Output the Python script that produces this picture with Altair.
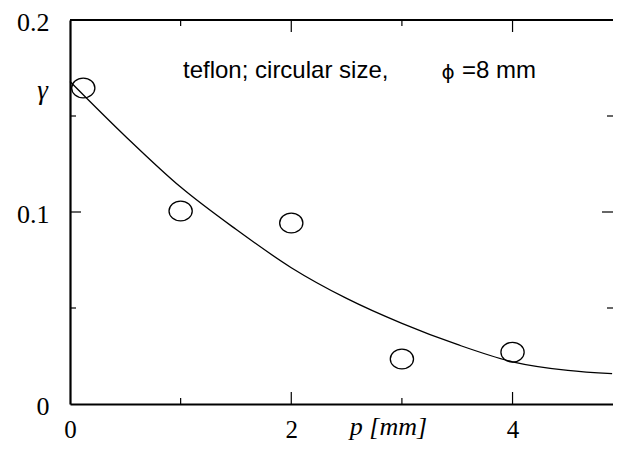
import altair as alt
import pandas as pd

# measured points
p_vals = [0.12, 1.0, 2.0, 3.0, 4.0]
gamma_vals = [0.1646, 0.1005, 0.0943, 0.0234, 0.027]

# fitted curve
curve_p = [0.0, 0.5, 1.0, 1.5, 2.0, 2.5, 3.0, 3.5, 4.0, 4.5, 4.9]
curve_g = [0.168, 0.1395, 0.113, 0.091, 0.071, 0.055, 0.042, 0.031, 0.022, 0.0175, 0.0158]

# ticks
x_labels = [0, 2, 4]
x_major = [2, 4]
x_minor = [1, 3]
y_labels = [0, 0.1, 0.2]
y_major = [0.1]
y_minor = [0.05, 0.15]

note_text = "teflon; circular size,"
phi_text = "\u03d5"
eq_text = "=8 mm"

W, H = 543, 384
XDOM = [0, 4.908]
YDOM = [0, 0.2]

pts = pd.DataFrame({"p": p_vals, "g": gamma_vals})
crv = pd.DataFrame({"p": curve_p, "g": curve_g})

xs = alt.Scale(domain=XDOM, nice=False, zero=False)
ys = alt.Scale(domain=YDOM, nice=False, zero=False)

x_axis = alt.Axis(
    values=x_labels, format="d", tickSize=0, labelPadding=33, labelFlush=False,
    labelFont="Liberation Serif", labelFontSize=25, labelColor="black",
    domainColor="black", domainWidth=2.2, grid=False, labelBaseline="alphabetic",
    title="p [mm]", titleFont="Liberation Serif", titleFontStyle="italic",
    titleFontWeight="normal", titleFontSize=26, titleColor="black",
    titleX=318, titleY=22, titleBaseline="middle", titleAlign="center",
)
y_axis = alt.Axis(
    values=y_labels, tickSize=0, labelPadding=21, labelOffset=2, labelFlush=False,
    labelExpr="datum.value == 0 ? '0' : format(datum.value, '.1f')",
    labelFont="Liberation Serif", labelFontSize=26, labelColor="black",
    labelBaseline="middle",
    domainColor="black", domainWidth=2.2, grid=False,
    title="\u03b3", titleFont="Liberation Serif", titleFontStyle="italic",
    titleFontWeight="normal", titleFontSize=27, titleColor="black",
    titleAngle=0, titleX=-28, titleY=70, titleBaseline="middle", titleAlign="center",
)

curve = alt.Chart(crv).mark_line(color="black", strokeWidth=1.3, interpolate="monotone").encode(
    x=alt.X("p:Q", scale=xs, axis=x_axis),
    y=alt.Y("g:Q", scale=ys, axis=y_axis),
)

ellipse = "M-1,0A1,0.85,0,1,0,1,0A1,0.85,0,1,0,-1,0Z"
points = alt.Chart(pts).mark_point(
    shape=ellipse, size=540, filled=False, color="black", strokeWidth=1.3, opacity=1
).encode(x=alt.X("p:Q", scale=xs), y=alt.Y("g:Q", scale=ys))

def xticks(vals, length):
    d = pd.DataFrame({"v": vals})
    bot = alt.Chart(d).mark_rule(color="black", strokeWidth=1.2).encode(
        x=alt.X("v:Q", scale=xs), y=alt.value(H), y2=alt.value(H - length))
    top = alt.Chart(d).mark_rule(color="black", strokeWidth=1.2).encode(
        x=alt.X("v:Q", scale=xs), y=alt.value(0), y2=alt.value(length))
    return [bot, top]

def yticks(vals, length):
    d = pd.DataFrame({"v": vals})
    left = alt.Chart(d).mark_rule(color="black", strokeWidth=1.2).encode(
        y=alt.Y("v:Q", scale=ys), x=alt.value(0), x2=alt.value(length))
    right = alt.Chart(d).mark_rule(color="black", strokeWidth=1.2).encode(
        y=alt.Y("v:Q", scale=ys), x=alt.value(W), x2=alt.value(W - length))
    return [left, right]

top_border = alt.Chart(pd.DataFrame({"a": [0]})).mark_rule(color="black", strokeWidth=2.2).encode(
    x=alt.value(0), x2=alt.value(W), y=alt.value(0))

note = alt.Chart(pd.DataFrame({"t": [note_text]})).mark_text(
    font="Liberation Sans", fontSize=24, align="left", baseline="alphabetic", color="black"
).encode(text="t:N", x=alt.value(113), y=alt.value(58))
phi = alt.Chart(pd.DataFrame({"t": [phi_text]})).mark_text(
    font="DejaVu Sans", fontSize=20, align="center", baseline="alphabetic", color="black"
).encode(text="t:N", x=alt.value(378), y=alt.value(59))
eq = alt.Chart(pd.DataFrame({"t": [eq_text]})).mark_text(
    font="Liberation Sans", fontSize=24, align="left", baseline="alphabetic", color="black"
).encode(text="t:N", x=alt.value(392), y=alt.value(58))

layers = [curve, points, top_border, note, phi, eq]
layers += xticks(x_major, 12) + xticks(x_minor, 6)
layers += yticks(y_major, 11) + yticks(y_minor, 6)

chart = alt.layer(*layers).properties(
    width=W, height=H,
    autosize=alt.AutoSizeParams(type="none"),
    padding={"left": 62, "top": 12, "right": 0, "bottom": 38},
).configure_view(stroke=None).configure(background="white")

chart.save("out.html", embed_options={"renderer": "svg", "actions": False})
